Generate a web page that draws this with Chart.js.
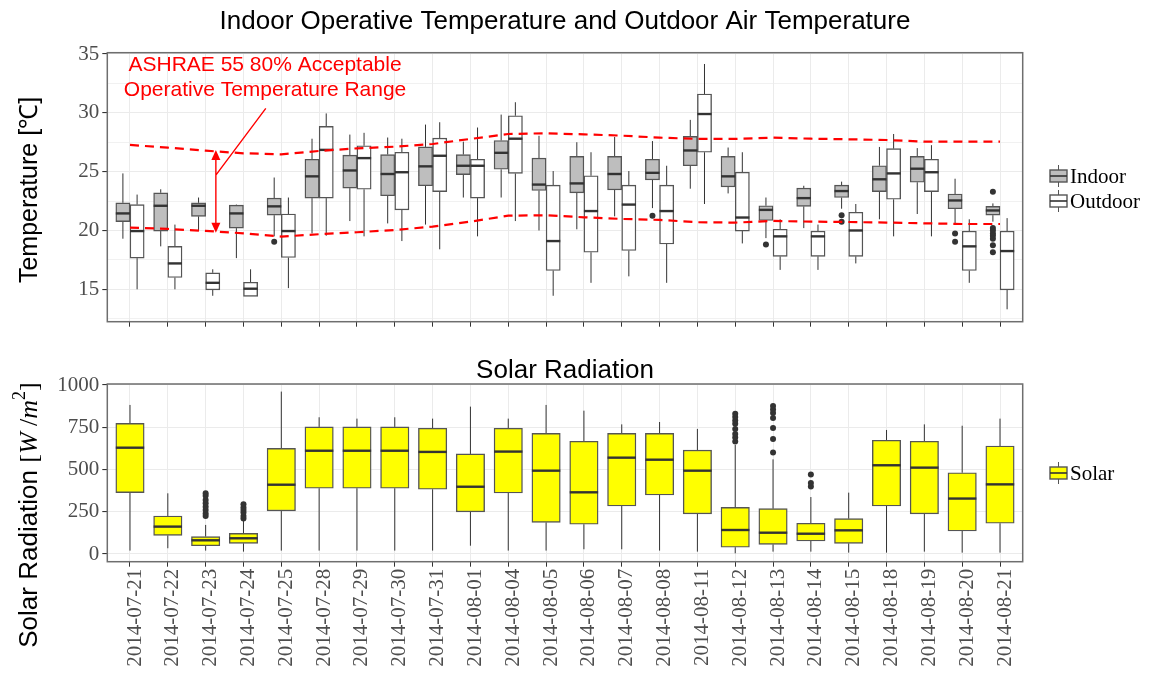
<!DOCTYPE html>
<html>
<head>
<meta charset="utf-8">
<script src="https://cdn.jsdelivr.net/npm/chart.js@4.4.1/dist/chart.umd.min.js"></script>
<style>
	html, body { margin: 0; padding: 0; background: #fff; }
	#wrap { position: relative; width: 1150px; height: 678px; }
	.panel { position: absolute; left: 0; width: 1150px; }
</style>
</head>
<body>
<div id="wrap">
	<div class="panel" style="top:0;height:340px"><canvas id="temp"></canvas></div>
	<div class="panel" style="top:340px;height:338px"><canvas id="solar"></canvas></div>
</div>
<script>
// --- Data ---
const DATES = [
	"2014-07-21", "2014-07-22", "2014-07-23", "2014-07-24", "2014-07-25",
	"2014-07-28", "2014-07-29", "2014-07-30", "2014-07-31", "2014-08-01",
	"2014-08-04", "2014-08-05", "2014-08-06", "2014-08-07", "2014-08-08",
	"2014-08-11", "2014-08-12", "2014-08-13", "2014-08-14", "2014-08-15",
	"2014-08-18", "2014-08-19", "2014-08-20", "2014-08-21",
];

const INDOOR_MIN = [19.3, 18.65, 19.95, 17.65, 19.5, 19.75, 20.8, 20.6, 20.5, 22.8, 22.8, 20.0, 20.1, 21.2, 21.9, 23.55, 23.15, 19.35, 20.2, 21.85, 20.95, 21.4, 20.5, 20.75];
const INDOOR_Q1 = [20.75, 19.95, 21.2, 20.2, 21.3, 22.75, 23.6, 22.95, 23.8, 24.75, 25.2, 23.4, 23.2, 23.45, 24.3, 25.5, 23.7, 20.85, 22.05, 22.8, 23.3, 24.1, 21.85, 21.3];
const INDOOR_MED = [21.45, 22.1, 22.1, 21.45, 22.05, 24.6, 25.1, 24.8, 25.45, 25.5, 26.6, 23.9, 24.0, 24.8, 24.9, 26.8, 24.6, 21.75, 22.75, 23.35, 24.35, 25.25, 22.55, 21.7];
const INDOOR_Q3 = [22.35, 23.2, 22.35, 22.15, 22.75, 26.05, 26.4, 26.45, 27.1, 26.45, 27.65, 26.15, 26.3, 26.3, 26.05, 28.0, 26.3, 22.1, 23.6, 23.85, 25.5, 26.3, 23.1, 22.05];
const INDOOR_MAX = [24.85, 23.5, 22.8, 22.2, 24.5, 27.8, 28.15, 27.9, 29.0, 27.55, 29.85, 28.05, 27.5, 27.95, 27.6, 29.4, 27.05, 22.8, 23.8, 24.15, 27.1, 27.0, 24.4, 22.3];
const INDOOR_OUT = [[], [], [], [], [19.05], [], [], [], [], [], [], [], [], [], [21.25], [], [], [18.8], [], [21.3, 20.75], [], [], [19.75, 19.05], [23.3, 20.2, 20.0, 19.75, 19.55, 19.3, 18.75, 18.15]];

const OUTDOOR_MIN = [15.0, 15.0, 14.45, 14.4, 15.1, 19.55, 19.5, 19.1, 18.4, 19.5, 20.8, 14.45, 15.55, 16.1, 15.55, 22.25, 18.9, 16.65, 16.65, 17.2, 19.5, 19.5, 15.55, 13.3];
const OUTDOOR_Q1 = [17.65, 16.0, 14.95, 14.4, 17.7, 22.75, 23.5, 21.75, 23.3, 22.75, 24.85, 16.6, 18.15, 18.3, 18.85, 26.65, 19.95, 17.8, 17.8, 17.8, 22.65, 23.3, 16.6, 14.95];
const OUTDOOR_MED = [19.95, 17.2, 15.55, 15.05, 19.95, 26.85, 26.15, 24.95, 26.35, 25.5, 27.8, 19.1, 21.65, 22.2, 21.65, 29.9, 21.1, 19.5, 19.5, 20.0, 24.85, 24.95, 18.65, 18.25];
const OUTDOOR_Q3 = [22.2, 18.65, 16.4, 15.6, 21.4, 28.85, 27.2, 26.65, 27.85, 26.05, 29.75, 23.85, 24.65, 23.85, 23.85, 31.6, 24.95, 20.1, 19.95, 21.55, 26.95, 26.05, 19.95, 19.95];
const OUTDOOR_MAX = [23.05, 20.5, 16.7, 16.7, 22.8, 29.95, 28.3, 27.8, 29.2, 28.75, 30.9, 25.05, 26.65, 25.05, 25.5, 34.15, 26.65, 20.95, 20.5, 22.25, 28.2, 27.25, 20.95, 21.05];
const OUTDOOR_OUT = DATES.map(() => []);

// ASHRAE 55 80% acceptable limits
const ASHRAE_UPPER = [27.27, 27.04, 26.78, 26.56, 26.47, 26.76, 26.98, 27.12, 27.35, 27.78, 28.2, 28.26, 28.17, 28.06, 27.89, 27.78, 27.78, 27.89, 27.8, 27.75, 27.69, 27.55, 27.55, 27.55];
const ASHRAE_LOWER = [20.24, 20.13, 19.96, 19.76, 19.48, 19.68, 19.85, 20.04, 20.33, 20.75, 21.26, 21.29, 21.12, 20.98, 20.9, 20.7, 20.67, 20.81, 20.75, 20.72, 20.67, 20.61, 20.55, 20.55];

const SOLAR_MIN = [20, 34, 20, 14, 20, 20, 20, 20, 20, 49, 20, 20, 28, 28, 20, 14, 4, 14, 14, 8, 8, 14, 8, 8];
const SOLAR_Q1 = [363, 110, 49, 63, 255, 389, 389, 389, 383, 249, 361, 187, 176, 284, 349, 237, 40, 57, 77, 63, 284, 237, 136, 182];
const SOLAR_MED = [629, 162, 81, 93, 410, 611, 611, 611, 604, 398, 606, 493, 365, 570, 558, 493, 142, 126, 120, 140, 525, 511, 328, 412];
const SOLAR_Q3 = [773, 225, 103, 122, 625, 752, 752, 752, 744, 592, 744, 714, 667, 714, 714, 615, 276, 268, 182, 209, 673, 667, 481, 639];
const SOLAR_MAX = [882, 359, 172, 205, 961, 809, 801, 809, 801, 872, 801, 882, 848, 767, 781, 740, 645, 560, 337, 363, 734, 767, 759, 801];
const SOLAR_OUT = [[], [], [225, 240, 260, 280, 300, 320, 345, 360], [210, 225, 245, 260, 275, 295], [], [], [], [], [], [], [], [], [], [], [], [], [665, 690, 710, 740, 770, 790, 810, 830], [600, 680, 745, 805, 835, 855, 875], [400, 420, 470], [], [], [], [], []];

const TEMP_TICKS = [12.5, 15, 17.5, 20, 22.5, 25, 27.5, 30, 32.5, 35];
const SOLAR_TICKS = [0, 125, 250, 375, 500, 625, 750, 875, 1000];

// --- Helpers ---
const SANS = "'Liberation Sans', Arial, sans-serif";
const SERIF = "'Liberation Serif', 'Times New Roman', serif";
const GRID = "#ebebeb";
const INK = "#333333";

function boxDataset(label, q1, q3, stats, fill, thickness) {
	return {
		type: "bar",
		label,
		data: q1.map((v, i) => ({ x: i, y: [v, q3[i]] })),
		stats,
		backgroundColor: fill,
		borderColor: "#555555",
		borderWidth: 1.4,
		borderSkipped: false,
		barThickness: thickness,
		order: 2,
	};
}

function dashLine(values) {
	return {
		type: "line",
		data: values.map((v, i) => ({ x: i, y: v })),
		borderColor: "#ff0000",
		borderWidth: 2.2,
		borderDash: [9, 6],
		pointRadius: 0,
		fill: false,
		tension: 0,
		order: 1,
	};
}

function xScale(showLabels, height) {
	return {
		type: "linear",
		offset: false,
		min: -0.6,
		max: DATES.length - 1 + 0.6,
		afterBuildTicks: (s) => (s.ticks = DATES.map((d, i) => ({ value: i }))),
		afterFit: (s) => (s.height = height),
		grid: { offset: false, color: GRID, lineWidth: 1, tickColor: INK, tickLength: 5 },
		border: { display: false },
		ticks: {
			display: showLabels,
			autoSkip: false,
			maxRotation: 90,
			minRotation: 90,
			padding: 2,
			labelOffset: 5,
			color: "#4d4d4d",
			font: { family: SERIF, size: 21 },
			callback: (v) => DATES[v] || "",
		},
	};
}

function yScale(min, max, tickList, isMajor) {
	return {
		min,
		max,
		afterBuildTicks: (s) => (s.ticks = tickList.map((v) => ({ value: v }))),
		afterFit: (s) => (s.width = 107.3),
		grid: {
			color: GRID,
			lineWidth: (c) => (isMajor(c.tick.value) ? 1.1 : 0.7),
			tickColor: (c) => (isMajor(c.tick.value) ? INK : "rgba(0,0,0,0)"),
			tickLength: 5,
		},
		border: { display: false },
		ticks: {
			color: "#4d4d4d",
			padding: 3,
			font: { family: SERIF, size: 21 },
			callback: (v) => (isMajor(v) ? String(v) : ""),
		},
	};
}

function drawKey(ctx, x, y, fill, text) {
	ctx.save();
	ctx.strokeStyle = "#555";
	ctx.lineWidth = 1;
	ctx.beginPath();
	ctx.moveTo(x + 9.5, y - 11);
	ctx.lineTo(x + 9.5, y + 11);
	ctx.stroke();
	ctx.fillStyle = fill;
	ctx.lineWidth = 1.4;
	ctx.fillRect(x + 1, y - 6, 17, 12);
	ctx.strokeRect(x + 1, y - 6, 17, 12);
	ctx.strokeStyle = INK;
	ctx.lineWidth = 1.6;
	ctx.beginPath();
	ctx.moveTo(x + 1, y);
	ctx.lineTo(x + 18, y);
	ctx.stroke();
	ctx.fillStyle = "#000";
	ctx.font = "21px " + SERIF;
	ctx.textAlign = "left";
	ctx.textBaseline = "middle";
	ctx.fillText(text, x + 21, y + 1);
	ctx.restore();
}

function arrowHead(ctx, x, y, dir) {
	ctx.beginPath();
	ctx.moveTo(x, y);
	ctx.lineTo(x - 4.5, y + dir * 10);
	ctx.lineTo(x + 4.5, y + dir * 10);
	ctx.closePath();
	ctx.fill();
}

// --- Box plot plugin: whiskers, medians, outliers, frame, texts ---
const boxplotPlugin = {
	id: "boxplot",
	beforeDatasetsDraw(chart) {
		const ctx = chart.ctx;
		const ys = chart.scales.y;
		ctx.save();
		ctx.strokeStyle = INK;
		ctx.lineWidth = 1;
		chart.data.datasets.forEach((ds, d) => {
			if (!ds.stats) return;
			chart.getDatasetMeta(d).data.forEach((bar, i) => {
				const [q1, q3] = ds.data[i].y;
				ctx.beginPath();
				ctx.moveTo(bar.x, ys.getPixelForValue(ds.stats.max[i]));
				ctx.lineTo(bar.x, ys.getPixelForValue(q3));
				ctx.moveTo(bar.x, ys.getPixelForValue(q1));
				ctx.lineTo(bar.x, ys.getPixelForValue(ds.stats.min[i]));
				ctx.stroke();
			});
		});
		ctx.restore();
	},
	afterDatasetDraw(chart, args) {
		const ds = chart.data.datasets[args.index];
		if (!ds.stats) return;
		const ctx = chart.ctx;
		const ys = chart.scales.y;
		ctx.save();
		args.meta.data.forEach((bar, i) => {
			const ym = ys.getPixelForValue(ds.stats.med[i]);
			ctx.strokeStyle = INK;
			ctx.lineWidth = 2.4;
			ctx.beginPath();
			ctx.moveTo(bar.x - bar.width / 2, ym);
			ctx.lineTo(bar.x + bar.width / 2, ym);
			ctx.stroke();
			ctx.fillStyle = INK;
			ds.stats.out[i].forEach((v) => {
				ctx.beginPath();
				ctx.arc(bar.x, ys.getPixelForValue(v), 3, 0, Math.PI * 2);
				ctx.fill();
			});
		});
		ctx.restore();
	},
	afterDraw(chart, args, opts) {
		const ctx = chart.ctx;
		const a = chart.chartArea;
		const xs = chart.scales.x;
		const ys = chart.scales.y;
		ctx.save();
		// panel frame
		ctx.strokeStyle = "#6e6e6e";
		ctx.lineWidth = 1.5;
		ctx.strokeRect(a.left, a.top, a.right - a.left, a.bottom - a.top);

		// title
		ctx.fillStyle = "#000";
		ctx.font = "26px " + SANS;
		ctx.textAlign = "center";
		ctx.textBaseline = "middle";
		ctx.fillText(opts.title, (a.left + a.right) / 2, opts.titleY);

		// y axis title
		ctx.save();
		ctx.translate(30, opts.yTitleY);
		ctx.rotate(-Math.PI / 2);
		ctx.textBaseline = "middle";
		const parts = opts.yTitle;
		let total = 0;
		parts.forEach((p) => {
			ctx.font = p.font;
			total += ctx.measureText(p.t).width;
		});
		let px = -total / 2;
		ctx.textAlign = "left";
		parts.forEach((p) => {
			ctx.font = p.font;
			ctx.fillText(p.t, px, p.dy || 0);
			px += ctx.measureText(p.t).width;
		});
		ctx.restore();

		// legend
		opts.legend.forEach((l) => drawKey(ctx, 1049, l.y, l.fill, l.text));

		// annotation
		if (opts.annotate) {
			ctx.fillStyle = "#ff0000";
			ctx.strokeStyle = "#ff0000";
			ctx.font = "21px " + SANS;
			ctx.textAlign = "center";
			ctx.textBaseline = "middle";
			const tx = xs.getPixelForValue(3.57);
			ctx.fillText("ASHRAE 55 80% Acceptable", tx, ys.getPixelForValue(34.06));
			ctx.fillText("Operative Temperature Range", tx, ys.getPixelForValue(31.93));
			const ax = xs.getPixelForValue(2.27);
			const yTop = ys.getPixelForValue(26.84);
			const yBot = ys.getPixelForValue(19.81);
			ctx.lineWidth = 1.4;
			ctx.beginPath();
			ctx.moveTo(ax, yTop + 4);
			ctx.lineTo(ax, yBot - 4);
			ctx.moveTo(xs.getPixelForValue(3.59), ys.getPixelForValue(30.38));
			ctx.lineTo(ax, ys.getPixelForValue(24.71));
			ctx.stroke();
			arrowHead(ctx, ax, yTop, 1);
			arrowHead(ctx, ax, yBot, -1);
		}
		ctx.restore();
	},
};

// --- Charts ---
Chart.defaults.animation = false;

new Chart(document.getElementById("temp"), {
	type: "bar",
	data: {
		datasets: [
			dashLine(ASHRAE_UPPER),
			dashLine(ASHRAE_LOWER),
			boxDataset("Indoor", INDOOR_Q1, INDOOR_Q3,
				{ min: INDOOR_MIN, med: INDOOR_MED, max: INDOOR_MAX, out: INDOOR_OUT }, "#bebebe", 14.2),
			boxDataset("Outdoor", OUTDOOR_Q1, OUTDOOR_Q3,
				{ min: OUTDOOR_MIN, med: OUTDOOR_MED, max: OUTDOOR_MAX, out: OUTDOOR_OUT }, "#ffffff", 14.2),
		],
	},
	options: {
		responsive: true,
		maintainAspectRatio: false,
		layout: { padding: { top: 52.7, right: 127.3, left: 0, bottom: 0 } },
		scales: {
			x: xScale(false, 18.3),
			y: yScale(12.246, 35.11, TEMP_TICKS, (v) => v % 5 === 0),
		},
		plugins: {
			legend: { display: false },
			tooltip: { enabled: false },
			boxplot: {
				title: "Indoor Operative Temperature and Outdoor Air Temperature",
				titleY: 22,
				yTitleY: 190,
				yTitle: [{ t: "Temperature [℃]", font: "25px " + SANS }],
				legend: [
					{ y: 176, fill: "#bebebe", text: "Indoor" },
					{ y: 201, fill: "#ffffff", text: "Outdoor" },
				],
				annotate: true,
			},
		},
	},
	plugins: [boxplotPlugin],
});

new Chart(document.getElementById("solar"), {
	type: "bar",
	data: {
		datasets: [
			boxDataset("Solar", SOLAR_Q1, SOLAR_Q3,
				{ min: SOLAR_MIN, med: SOLAR_MED, max: SOLAR_MAX, out: SOLAR_OUT }, "#ffff00", 28.4),
		],
	},
	options: {
		responsive: true,
		maintainAspectRatio: false,
		layout: { padding: { top: 44, right: 127.3, left: 0, bottom: 0 } },
		scales: {
			x: xScale(true, 116.3),
			y: yScale(-45.6, 1005.9, SOLAR_TICKS, (v) => v % 250 === 0),
		},
		plugins: {
			legend: { display: false },
			tooltip: { enabled: false },
			boxplot: {
				title: "Solar Radiation",
				titleY: 31,
				yTitleY: 175,
				yTitle: [
					{ t: "Solar Radiation ", font: "26px " + SANS },
					{ t: "[", font: "26px " + SERIF },
					{ t: "W", font: "italic 26px " + SERIF },
					{ t: " /", font: "26px " + SERIF },
					{ t: "m", font: "italic 26px " + SERIF },
					{ t: "2", font: "18px " + SERIF, dy: -10 },
					{ t: "]", font: "26px " + SERIF },
				],
				legend: [{ y: 133, fill: "#ffff00", text: "Solar" }],
				annotate: false,
			},
		},
	},
	plugins: [boxplotPlugin],
});
</script>
</body>
</html>
